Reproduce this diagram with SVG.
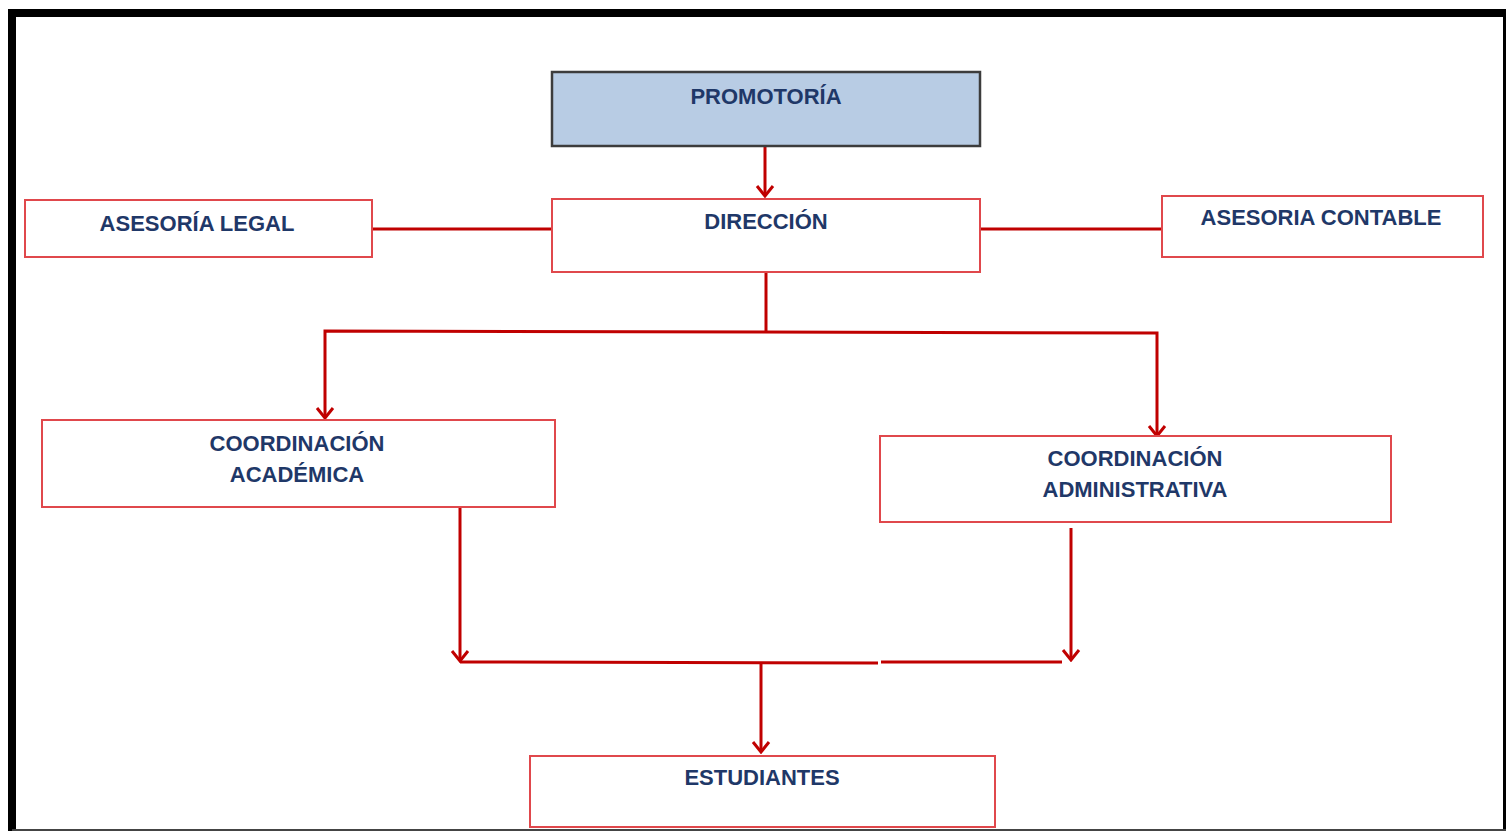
<svg xmlns="http://www.w3.org/2000/svg" width="1506" height="831" viewBox="0 0 1506 831">
<defs>
<style>
.box{fill:#ffffff;stroke:#e0484c;stroke-width:2}
.top{fill:#b8cce4;stroke:#3c3c3c;stroke-width:2.5}
.lbl{font-family:"Liberation Sans",Arial,sans-serif;font-weight:bold;font-size:22px;fill:#1f3868;text-anchor:middle}
.con{fill:none;stroke:#c00000;stroke-width:3}
</style>
<marker id="arr" viewBox="0 0 14 20" refX="12" refY="10" markerWidth="14" markerHeight="20" markerUnits="userSpaceOnUse" orient="auto-start-reverse">
<path d="M2,2 L12,10 L2,18" fill="none" stroke="#c00000" stroke-width="3"/>
</marker>
</defs>
<rect x="0" y="0" width="1506" height="831" fill="#ffffff"/>
<path d="M12,831 V13 H1506" fill="none" stroke="#000000" stroke-width="8"/>
<line x1="1504.5" y1="9" x2="1504.5" y2="831" stroke="#000000" stroke-width="3"/>
<line x1="12" y1="830" x2="1506" y2="830" stroke="#444444" stroke-width="2"/>
<g id="connectors">
<line class="con" x1="765" y1="146" x2="765" y2="196" marker-end="url(#arr)"/>
<line class="con" x1="372" y1="229" x2="552" y2="229"/>
<line class="con" x1="980" y1="229" x2="1162" y2="229"/>
<line class="con" x1="766" y1="266" x2="766" y2="331"/>
<polyline class="con" points="325,418 325,331 1157,333 1157,436" marker-start="url(#arr)" marker-end="url(#arr)"/>
<line class="con" x1="460" y1="508" x2="460" y2="661" marker-end="url(#arr)"/>
<line class="con" x1="1071" y1="528" x2="1071" y2="660" marker-end="url(#arr)"/>
<line class="con" x1="460" y1="662" x2="878" y2="663"/>
<line class="con" x1="881" y1="662" x2="1062" y2="662"/>
<line class="con" x1="761" y1="663" x2="761" y2="752" marker-end="url(#arr)"/>
</g>
<g id="promotoria">
<rect class="top" x="552" y="72" width="428" height="74"/>
<text class="lbl" x="766" y="104">PROMOTORÍA</text>
</g>
<g id="direccion">
<rect class="box" x="552" y="199" width="428" height="73"/>
<text class="lbl" x="766" y="229">DIRECCIÓN</text>
</g>
<g id="asesoria-legal">
<rect class="box" x="25" y="200" width="347" height="57"/>
<text class="lbl" x="197" y="231">ASESORÍA LEGAL</text>
</g>
<g id="asesoria-contable">
<rect class="box" x="1162" y="196" width="321" height="61"/>
<text class="lbl" x="1321" y="225">ASESORIA CONTABLE</text>
</g>
<g id="coord-academica">
<rect class="box" x="42" y="420" width="513" height="87"/>
<text class="lbl" x="297" y="451">COORDINACIÓN</text>
<text class="lbl" x="297" y="482">ACADÉMICA</text>
</g>
<g id="coord-administrativa">
<rect class="box" x="880" y="436" width="511" height="86"/>
<text class="lbl" x="1135" y="466">COORDINACIÓN</text>
<text class="lbl" x="1135" y="497">ADMINISTRATIVA</text>
</g>
<g id="estudiantes">
<rect class="box" x="530" y="756" width="465" height="71"/>
<text class="lbl" x="762" y="785">ESTUDIANTES</text>
</g>
</svg>
